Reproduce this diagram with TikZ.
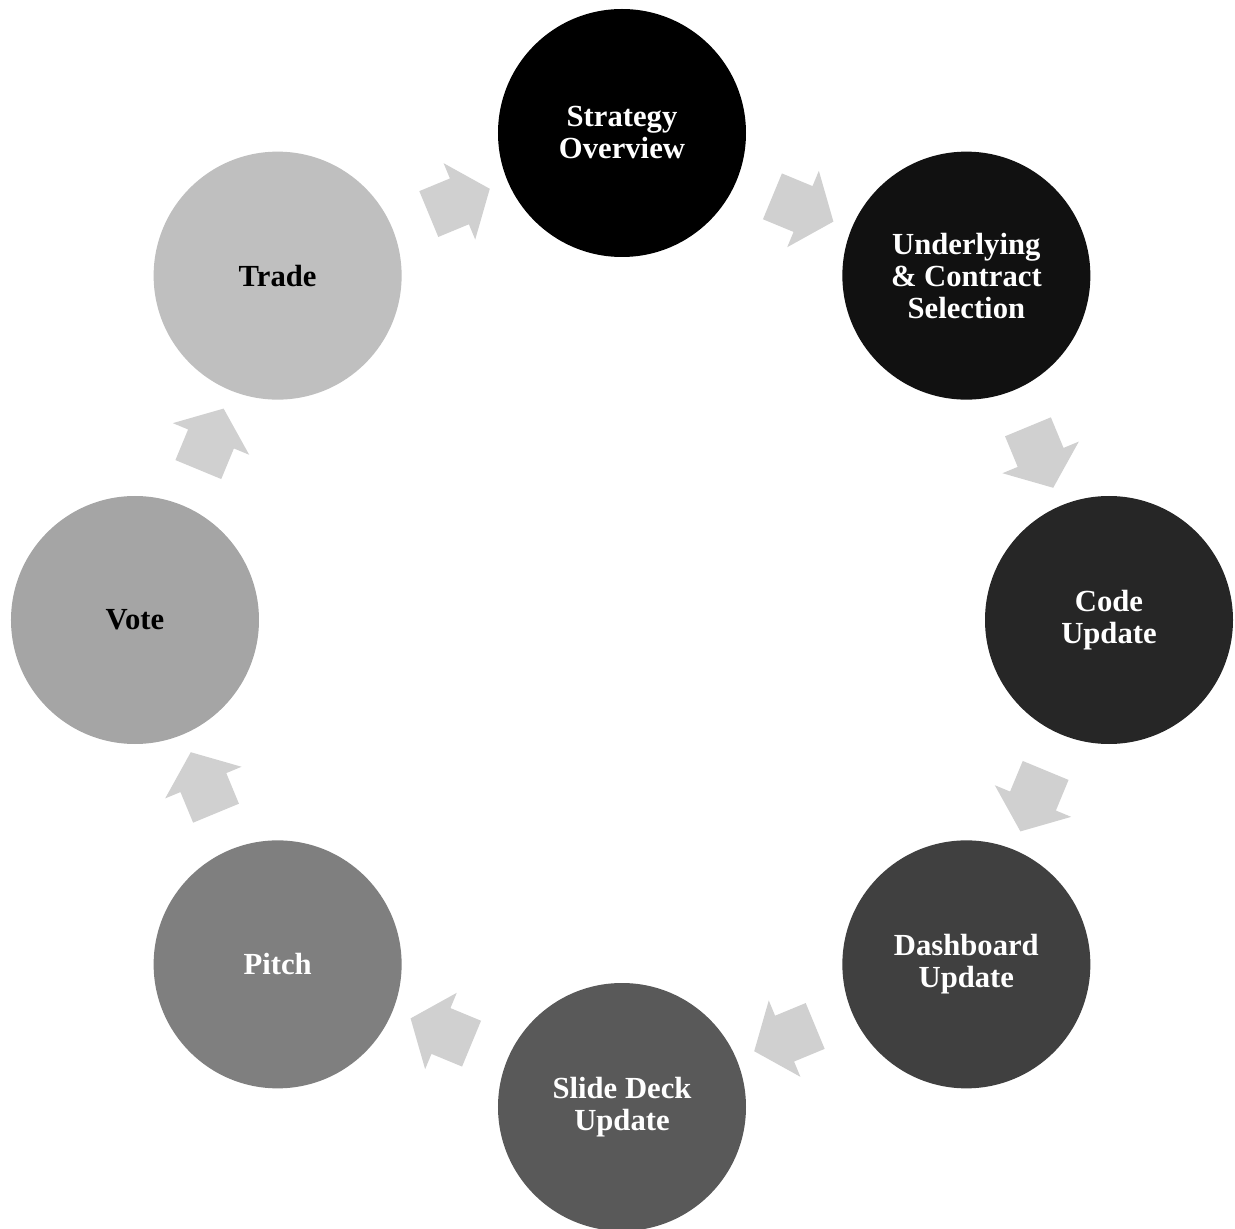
\documentclass[tikz,border=0pt]{standalone}
\usepackage{fontspec}
\setmainfont{Liberation Serif}
\usetikzlibrary{shapes.arrows}
\definecolor{phaseA}{HTML}{000000}
\definecolor{phaseB}{HTML}{111111}
\definecolor{phaseC}{HTML}{262626}
\definecolor{phaseD}{HTML}{404040}
\definecolor{phaseE}{HTML}{595959}
\definecolor{phaseF}{HTML}{7F7F7F}
\definecolor{phaseG}{HTML}{A5A5A5}
\definecolor{phaseH}{HTML}{BFBFBF}
\definecolor{arrowgray}{HTML}{D0D0D0}
\tikzset{
  % Base style
  cycle base/.style={
    every node/.style={font=\bfseries\fontsize{23}{24}\selectfont, align=center},
  },
  % Phase circles
  phase node/.style={circle, minimum size=186pt, inner sep=0pt, text=white},
  light phase/.style={phase node, text=black},
  % Block arrows between phases
  flow arrow/.style={single arrow, fill=arrowgray, draw=none, inner xsep=0pt,
    inner ysep=18.4pt, minimum height=49.5pt, single arrow head extend=12.4pt,
    single arrow tip angle=103, single arrow head indent=0pt},
}

\begin{document}
\begin{tikzpicture}[cycle base]
\useasboundingbox (-466.5pt,-456pt) rectangle (459.75pt,465pt);

% Phases, clockwise from the top
\node[phase node, fill=phaseA] (strat) at (90:365.25pt) {Strategy\\Overview};
\node[phase node, fill=phaseB] (under) at (45:365.25pt) {Underlying\\\& Contract\\Selection};
\node[phase node, fill=phaseC] (code) at (0:365.25pt) {Code\\Update};
\node[phase node, fill=phaseD] (dash) at (-45:365.25pt) {Dashboard\\Update};
\node[phase node, fill=phaseE] (slide) at (-90:365.25pt) {Slide Deck\\Update};
\node[phase node, fill=phaseF] (pitch) at (-135:365.25pt) {Pitch};
\node[light phase, fill=phaseG] (vote) at (180:365.25pt) {Vote};
\node[light phase, fill=phaseH] (trade) at (135:365.25pt) {Trade};

% Arrows between phases
\node[flow arrow, rotate=-22.5] (a1) at (67.5:336.75pt) {};
\node[flow arrow, rotate=-67.5] (a2) at (22.5:336.75pt) {};
\node[flow arrow, rotate=-112.5] (a3) at (-22.5:336.75pt) {};
\node[flow arrow, rotate=-157.5] (a4) at (-67.5:336.75pt) {};
\node[flow arrow, rotate=157.5] (a5) at (-112.5:336.75pt) {};
\node[flow arrow, rotate=112.5] (a6) at (-157.5:336.75pt) {};
\node[flow arrow, rotate=67.5] (a7) at (157.5:336.75pt) {};
\node[flow arrow, rotate=22.5] (a8) at (112.5:336.75pt) {};
\end{tikzpicture}
\end{document}
